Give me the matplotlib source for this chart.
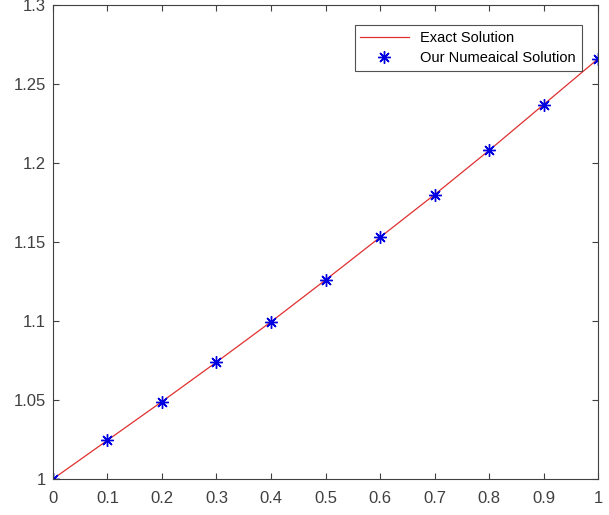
import numpy as np
import matplotlib.pyplot as plt

plt.rcParams['font.family'] = ['Liberation Sans', 'DejaVu Sans']

x = [0, 0.1, 0.2, 0.3, 0.4, 0.5, 0.6, 0.7, 0.8, 0.9, 1.0]
exact = [1.0, 1.0245, 1.0490, 1.0740, 1.0995, 1.1260, 1.1530, 1.1800, 1.2080, 1.2370, 1.2660]
numerical = [1.0, 1.0245, 1.0490, 1.0740, 1.0995, 1.1260, 1.1530, 1.1800, 1.2080, 1.2370, 1.2660]

x_ticks = [0, 0.1, 0.2, 0.3, 0.4, 0.5, 0.6, 0.7, 0.8, 0.9, 1]
x_labels = ['0', '0.1', '0.2', '0.3', '0.4', '0.5', '0.6', '0.7', '0.8', '0.9', '1']
y_ticks = [1, 1.05, 1.1, 1.15, 1.2, 1.25, 1.3]
y_labels = ['1', '1.05', '1.1', '1.15', '1.2', '1.25', '1.3']

fig = plt.figure(figsize=(6.09, 5.15), dpi=100)
ax = fig.add_axes([0.087, 0.070, 0.895, 0.920])

ax.plot(x, exact, color='#e03030', lw=0.9, label='Exact Solution')
ax.plot(x, numerical, ls='none', marker=(8, 2, 0), color='#0000e0', ms=9,
        markeredgewidth=1.0, label='Our Numeaical Solution')

ax.set_xlim(0, 1)
ax.set_ylim(1, 1.3)
ax.set_xticks(x_ticks)
ax.set_xticklabels(x_labels)
ax.set_yticks(y_ticks)
ax.set_yticklabels(y_labels)
ax.tick_params(direction='in', length=4, width=0.8, colors='#404040',
               labelsize=12, top=True, right=True)
ax.tick_params(axis='x', pad=9)
ax.tick_params(axis='y', pad=5)
for s in ax.spines.values():
    s.set_color('#404040')
    s.set_linewidth(0.8)

leg = ax.legend(loc='upper right', bbox_to_anchor=(0.970, 0.958), fontsize=10.5,
                frameon=True, fancybox=False, edgecolor='#262626',
                handlelength=3.3, borderpad=0.4, labelspacing=0.45,
                handletextpad=0.8, borderaxespad=0)
leg.get_frame().set_linewidth(0.8)

fig.savefig('out.png', dpi=100)
